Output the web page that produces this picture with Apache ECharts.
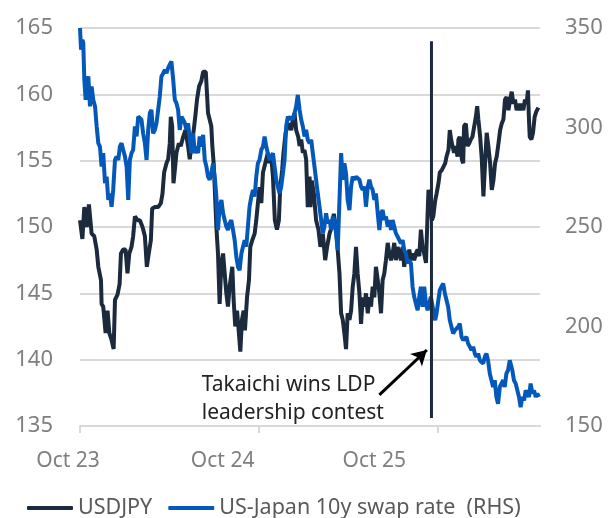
<!DOCTYPE html>
<html>
<head>
<meta charset="utf-8">
<script src="https://cdn.jsdelivr.net/npm/echarts@6/dist/echarts.min.js"></script>
<style>
  html, body { margin: 0; padding: 0; background: #fff; }
  #chart { width: 609px; height: 518px; }
</style>
</head>
<body>
<div id="chart"></div>
<script>
// x = months since Oct 2023
const xTickLabels = ['Oct 23', 'Oct 24', 'Oct 25'];
const xTickValues = [0, 12, 24];

// USDJPY (LHS)
const usdjpy = [
  [0,150.5],[0.16,149.1],[0.29,151.5],[0.45,150.0],[0.60,151.7],[0.78,149.5],[0.96,149.3],[1.12,148.3],[1.23,147.0],[1.41,146.0],[1.45,144.2],[1.56,144.0],[1.72,142.0],[1.85,143.7],[1.97,142.0],[2.12,141.5],[2.26,140.8],[2.35,144.5],[2.52,144.9],[2.66,145.7],[2.75,148.0],[2.90,148.3],[3.06,148.3],[3.19,146.5],[3.31,148.0],[3.46,148.5],[3.57,149.3],[3.69,150.8],[3.87,150.5],[4.02,150.5],[4.20,150.0],[4.36,149.3],[4.49,147.0],[4.62,148.0],[4.76,149.0],[4.85,151.4],[5.03,151.5],[5.25,151.5],[5.43,151.8],[5.54,152.5],[5.65,154.1],[5.81,154.8],[5.92,155.1],[6.03,156.3],[6.10,158.3],[6.19,157.6],[6.28,153.3],[6.37,154.3],[6.48,155.6],[6.64,156.3],[6.77,156.1],[6.93,156.8],[7.08,157.3],[7.26,156.1],[7.37,155.1],
  [7.48,156.1],[7.64,157.3],[7.77,158.6],[7.86,159.6],[8.00,160.6],[8.15,161.0],[8.27,161.7],[8.45,161.7],[8.53,161.6],[8.60,158.6],[8.71,158.1],[8.82,157.6],[8.89,156.1],[8.98,154.8],[9.05,153.0],[9.16,150.0],[9.27,148.0],[9.38,144.2],[9.50,147.3],[9.61,148.0],[9.72,146.5],[9.83,145.0],[9.94,144.0],[10.05,145.5],[10.23,147.0],[10.32,144.5],[10.43,142.5],[10.55,143.7],[10.66,142.2],[10.77,140.6],[10.88,143.0],[10.99,143.7],[11.08,142.2],[11.22,144.7],[11.35,146.0],[11.44,148.5],[11.57,149.0],[11.73,149.5],[11.84,150.5],[11.95,151.8],[12.06,153.0],[12.18,151.8],[12.29,154.1],[12.40,154.6],[12.51,155.1],[12.62,155.6],[12.73,154.8],[12.85,155.3],[12.96,153.8],[13.09,150.5],[13.23,149.8],[13.36,150.5],[13.45,153.0],[13.58,154.3],[13.67,155.6],[13.81,157.1],[13.96,157.6],[14.08,157.8],[14.19,157.3],[14.30,158.1],[14.41,158.6],[14.52,157.3],[14.66,156.8],[14.75,156.1],[14.86,156.6],[14.97,155.6],[15.08,155.8],[15.19,155.1],[15.30,151.5],[15.42,153.8],
  [15.48,151.5],[15.57,153.5],[15.71,152.5],[15.86,150.5],[16.02,149.8],[16.15,148.5],[16.31,149.5],[16.47,147.5],[16.60,148.5],[16.76,149.5],[16.91,150.0],[17.05,151.0],[17.14,150.3],[17.23,149.5],[17.31,148.3],[17.43,146.5],[17.54,143.5],[17.65,143.0],[17.76,142.0],[17.87,140.8],[17.98,143.5],[18.10,143.0],[18.21,143.7],[18.32,145.5],[18.43,146.5],[18.54,148.5],[18.65,146.5],[18.77,145.0],[18.88,142.7],[18.99,144.7],[19.10,144.0],[19.21,145.0],[19.33,143.5],[19.44,144.7],[19.55,144.0],[19.66,145.5],[19.77,144.7],[19.88,147.0],[20.00,146.0],[20.11,145.0],[20.22,143.5],[20.33,146.0],[20.44,146.5],[20.55,147.5],[20.67,148.8],[20.78,148.0],[20.89,147.5],[21.00,148.0],[21.11,148.8],[21.22,147.5],[21.34,148.5],[21.45,148.0],[21.56,147.5],[21.67,148.5],[21.78,147.0],[21.89,148.0],[22.01,147.5],[22.12,148.3],[22.23,147.5],[22.34,148.0],[22.45,147.5],[22.56,148.0],[22.68,148.3],[22.79,147.8],[22.90,149.8],
  [23.01,148.5],[23.12,148.0],[23.24,147.3],[23.35,151.0],[23.41,152.8],[23.53,152.0],[23.64,150.5],[23.73,150.8],[23.86,152.0],[23.95,152.5],[24.08,153.3],[24.17,154.1],[24.31,154.3],[24.40,154.3],[24.53,154.8],[24.62,155.3],[24.75,155.8],[24.84,157.3],[24.93,156.6],[25.02,156.1],[25.13,155.6],[25.25,156.1],[25.36,155.3],[25.42,156.6],[25.51,156.8],[25.65,155.1],[25.74,154.8],[25.80,157.6],[25.92,157.8],[26.03,156.1],[26.14,156.3],[26.25,156.6],[26.36,156.8],[26.47,156.8],[26.59,158.3],[26.68,159.1],[26.76,158.1],[26.88,156.8],[26.99,155.1],[27.10,152.3],[27.21,154.8],[27.32,157.1],[27.43,156.1],[27.55,154.8],[27.66,152.8],[27.77,153.5],[27.88,154.8],[27.99,155.3],[28.11,156.3],[28.22,157.3],[28.33,157.8],[28.44,158.1],[28.55,159.6],[28.66,159.8],[28.78,158.8],[28.89,159.6],[29.00,160.2],[29.11,159.3],[29.22,159.6],[29.33,158.8],[29.45,159.3],[29.56,158.8],[29.67,159.3],[29.78,158.8],[29.89,159.6],[30.00,159.3],[30.09,160.3],[30.16,158.1],[30.21,156.8],[30.32,156.6],[30.43,157.1],[30.54,158.3],[30.65,158.7],[30.79,159.0]
];

// US-Japan 10y swap rate spread, bp (RHS)
const swapSpread = [
  [0,350.0],[0.07,339.1],[0.16,344.1],[0.22,342.4],[0.29,324.0],[0.38,313.9],[0.47,322.3],[0.56,325.7],[0.67,310.6],[0.78,320.6],[0.89,313.9],[1.01,310.6],[1.12,300.5],[1.23,292.1],[1.34,290.4],[1.45,280.4],[1.56,287.1],[1.68,272.0],[1.79,275.3],[1.90,263.6],[2.01,266.9],[2.12,260.2],[2.23,268.6],[2.35,283.7],[2.46,285.4],[2.57,283.7],[2.68,290.4],[2.79,292.1],[2.90,288.8],[3.02,285.4],[3.13,280.4],[3.24,263.6],[3.35,283.7],[3.46,287.1],[3.57,288.8],[3.69,300.5],[3.80,295.5],[3.91,305.5],[4.02,305.5],[4.13,303.9],[4.24,297.1],[4.36,292.1],[4.47,283.7],[4.58,298.8],[4.69,307.2],[4.80,308.9],[4.91,297.1],[5.03,298.8],[5.14,302.2],[5.25,308.9],[5.36,315.6],[5.47,325.7],[5.59,327.3],[5.70,329.0],[5.81,327.3],[5.92,329.9],[6.03,330.7],[6.14,333.2],[6.26,324.0],[6.37,313.9],[6.48,312.2],[6.59,308.9],[6.70,298.8],[6.82,305.5],[6.93,303.9],[7.04,302.2],[7.15,298.8],[7.26,302.2],
  [7.37,302.2],[7.48,287.1],[7.60,297.1],[7.71,287.1],[7.82,290.4],[7.93,287.1],[8.04,295.5],[8.15,290.4],[8.27,296.3],[8.38,283.7],[8.49,280.4],[8.60,275.3],[8.71,273.7],[8.82,277.0],[8.94,282.0],[9.05,275.3],[9.16,265.3],[9.27,248.5],[9.38,260.2],[9.50,263.6],[9.61,256.9],[9.72,253.5],[9.83,250.2],[9.94,248.5],[10.05,251.8],[10.16,253.5],[10.28,248.5],[10.39,243.4],[10.50,235.1],[10.61,230.0],[10.72,228.3],[10.84,236.7],[10.95,240.1],[11.06,243.4],[11.17,240.1],[11.28,250.2],[11.39,260.2],[11.51,265.3],[11.62,268.6],[11.73,265.3],[11.84,275.3],[11.95,282.0],[12.06,283.7],[12.18,288.8],[12.29,290.4],[12.40,295.5],[12.51,290.4],[12.62,287.1],[12.73,283.7],[12.85,285.4],[12.96,287.1],[13.07,280.4],[13.18,273.7],[13.29,270.3],[13.40,266.9],[13.52,270.3],[13.63,277.0],[13.74,283.7],[13.85,300.5],[13.96,305.5],[14.08,303.9],[14.19,305.5],[14.30,303.9],[14.41,307.2],[14.52,310.6],[14.63,316.4],[14.75,308.9],[14.86,303.9],[14.97,300.5],[15.08,295.5],[15.19,298.8],[15.30,293.8],[15.42,292.1],
  [15.53,293.8],[15.64,287.1],[15.75,280.4],[15.86,273.7],[15.97,266.9],[16.09,260.2],[16.20,253.5],[16.31,246.8],[16.42,250.2],[16.53,256.9],[16.64,251.8],[16.76,253.5],[16.87,248.5],[16.98,255.2],[17.09,253.5],[17.20,246.8],[17.31,238.4],[17.43,263.6],[17.54,287.1],[17.65,273.7],[17.76,282.0],[17.87,277.0],[17.98,263.6],[18.10,258.5],[18.21,270.3],[18.32,275.3],[18.43,273.7],[18.54,275.3],[18.65,275.3],[18.77,273.7],[18.88,270.3],[18.99,268.6],[19.10,270.3],[19.21,260.2],[19.33,270.3],[19.44,273.7],[19.55,270.3],[19.66,268.6],[19.77,263.6],[19.88,266.9],[20.00,256.9],[20.11,248.5],[20.22,256.9],[20.33,258.5],[20.44,253.5],[20.55,255.2],[20.67,250.2],[20.78,253.5],[20.89,248.5],[21.00,253.5],[21.11,253.5],[21.22,246.8],[21.34,245.1],[21.45,245.1],[21.56,241.8],[21.67,243.4],[21.78,238.4],[21.89,236.7],[22.01,231.7],[22.12,233.4],[22.23,231.7],[22.34,220.0],[22.45,214.9],[22.56,211.6],[22.68,208.2],[22.79,214.9],[22.90,220.0],
  [23.01,209.9],[23.12,220.0],[23.24,211.6],[23.35,208.2],[23.46,211.6],[23.57,214.9],[23.69,209.9],[23.80,204.9],[23.86,203.2],[23.95,206.5],[24.04,211.6],[24.17,218.3],[24.28,220.0],[24.40,221.6],[24.51,216.6],[24.62,216.6],[24.73,209.9],[24.84,203.2],[24.95,199.8],[25.07,196.5],[25.18,198.1],[25.29,198.1],[25.40,199.8],[25.51,201.5],[25.63,194.8],[25.74,193.1],[25.85,193.1],[25.96,194.8],[26.07,191.4],[26.19,189.8],[26.30,188.1],[26.41,189.8],[26.52,186.4],[26.63,184.7],[26.74,186.4],[26.86,183.0],[26.97,183.0],[27.08,181.4],[27.19,184.7],[27.30,186.4],[27.41,183.0],[27.53,176.3],[27.64,173.0],[27.75,169.6],[27.86,173.0],[27.97,164.6],[28.08,161.2],[28.20,169.6],[28.31,171.3],[28.42,173.0],[28.53,169.6],[28.64,176.3],[28.75,178.0],[28.87,183.0],[28.93,183.9],[29.04,178.0],[29.15,173.0],[29.27,171.3],[29.38,167.9],[29.49,164.6],[29.60,159.5],[29.71,164.6],[29.83,162.9],[29.94,167.9],[30.05,166.3],[30.16,164.6],[30.27,171.3],[30.39,166.3],[30.50,167.9],[30.61,164.6],[30.72,166.3],[30.83,164.6]
];

// event marker: LDP leadership vote
const eventLine = [[23.61, 135.6], [23.61, 164.0]];
const arrowFrom = [20.11, 137.34];
const arrowTo = [23.30, 140.73];
const annotationAt = [8.18, 139.15];
const annotationText = 'Takaichi wins LDP\nleadership contest';

const navy = '#1b2a3c';
const blue = '#0458b9';
const grey = '#7f7f7f';
const gridGrey = '#d9d9d9';
const font = 'Noto Sans';

// labels sit left of their ticks in the original
const labelShift = { 'Oct 23': 24, 'Oct 24': 72, 'Oct 25': 126 };

const chart = echarts.init(document.getElementById('chart'));
chart.setOption({
  animation: false,
  textStyle: { fontFamily: font },
  grid: { left: 80, right: 69, top: 28, bottom: 92 },
  legend: {
    data: ['USDJPY', 'US-Japan 10y swap rate  (RHS)'],
    left: 27,
    top: 497,
    padding: 0,
    itemGap: 16,
    itemWidth: 46,
    itemHeight: 4,
    icon: 'roundRect',
    textStyle: { fontSize: 21.5, color: '#595959', fontFamily: font }
  },
  xAxis: {
    type: 'value',
    min: 0,
    max: 30.9,
    interval: 12,
    splitLine: { show: false },
    axisLine: { lineStyle: { color: gridGrey, width: 2 } },
    axisTick: { show: true, length: 7, lineStyle: { color: gridGrey, width: 2 } },
    axisLabel: {
      showMaxLabel: false,
      margin: 25,
      formatter: function (v) {
        const i = xTickValues.indexOf(v);
        return i < 0 ? '' : '{a' + i + '|' + xTickLabels[i] + '}';
      },
      rich: {
        a0: { fontSize: 21, color: grey, fontFamily: font, padding: [0, labelShift['Oct 23'], 0, 0] },
        a1: { fontSize: 21, color: grey, fontFamily: font, padding: [0, labelShift['Oct 24'], 0, 0] },
        a2: { fontSize: 21, color: grey, fontFamily: font, padding: [0, labelShift['Oct 25'], 0, 0] }
      }
    }
  },
  yAxis: [
    {
      type: 'value',
      min: 135,
      max: 165,
      interval: 5,
      axisLine: { show: false },
      axisTick: { show: false },
      splitLine: { lineStyle: { color: gridGrey, width: 2 } },
      axisLabel: { fontSize: 22, color: grey, margin: 27, fontFamily: font }
    },
    {
      type: 'value',
      min: 150,
      max: 350,
      interval: 50,
      axisLine: { show: false },
      axisTick: { show: false },
      splitLine: { show: false },
      axisLabel: { fontSize: 22, color: grey, margin: 25, fontFamily: font }
    }
  ],
  series: [
    {
      name: 'USDJPY',
      type: 'line',
      yAxisIndex: 0,
      showSymbol: false,
      color: navy,
      lineStyle: { width: 4, color: navy },
      data: usdjpy
    },
    {
      name: 'US-Japan 10y swap rate  (RHS)',
      type: 'line',
      yAxisIndex: 1,
      showSymbol: false,
      color: blue,
      lineStyle: { width: 4, color: blue },
      data: swapSpread
    },
    {
      name: 'event',
      type: 'line',
      yAxisIndex: 0,
      showSymbol: false,
      z: 3,
      lineStyle: { width: 3, color: navy },
      data: eventLine,
      markLine: {
        silent: true,
        symbol: ['none', 'arrow'],
        symbolSize: [13, 15],
        label: { show: false },
        lineStyle: { color: '#000', width: 3, type: 'solid' },
        data: [[{ coord: arrowFrom }, { coord: arrowTo }]]
      }
    }
  ]
});

const p = chart.convertToPixel({ xAxisIndex: 0, yAxisIndex: 0 }, annotationAt);
chart.setOption({
  graphic: [{
    type: 'text',
    x: p[0],
    y: p[1],
    silent: true,
    style: {
      text: annotationText,
      fontSize: 21,
      lineHeight: 28,
      fontFamily: font,
      fill: '#222',
      align: 'left',
      verticalAlign: 'top'
    }
  }]
});
</script>
</body>
</html>
